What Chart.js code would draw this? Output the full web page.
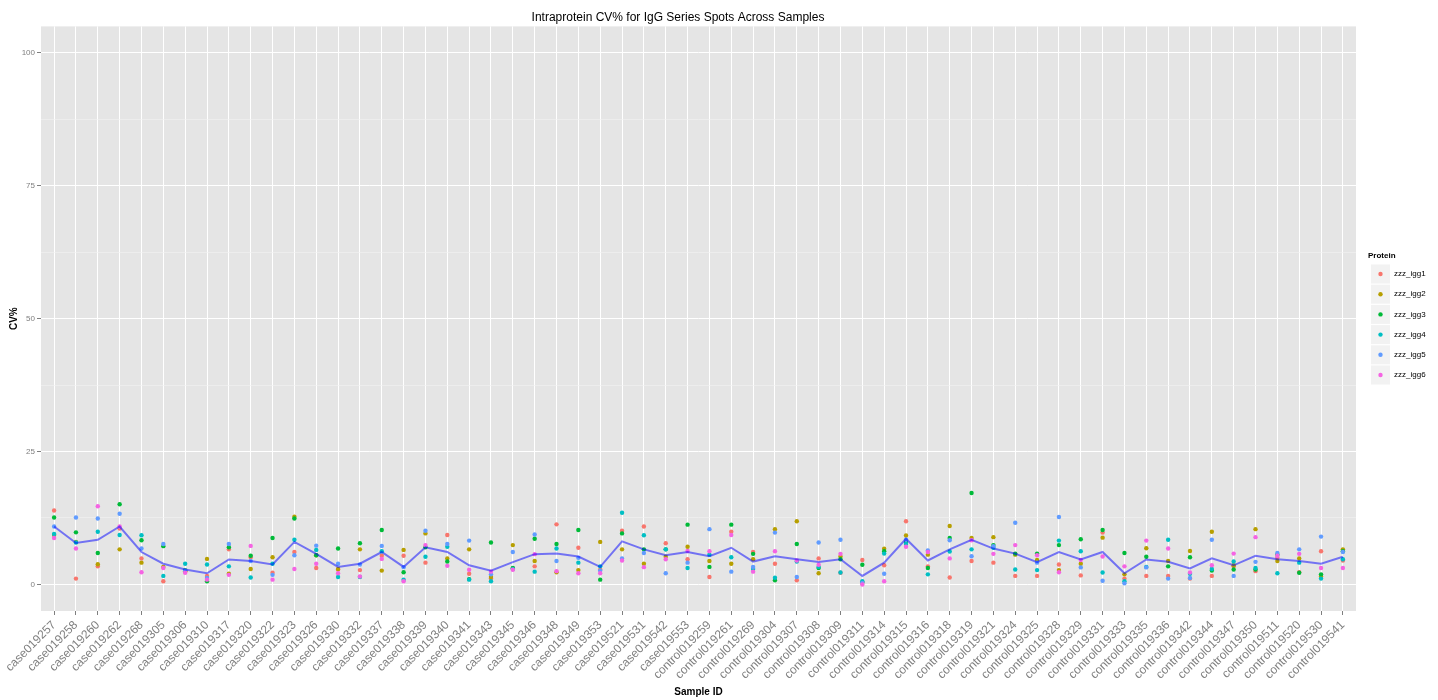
<!DOCTYPE html>
<html>
<head>
<meta charset="utf-8">
<title>Intraprotein CV% for IgG Series Spots Across Samples</title>
<script src="https://cdn.jsdelivr.net/npm/chart.js@4"></script>
<style>
  html, body { margin: 0; padding: 0; background: #ffffff; }
  #wrap { width: 1438px; height: 700px; }
</style>
</head>
<body>
<div id="wrap"><canvas id="cv" width="1438" height="700"></canvas></div>
<script>
// Sample IDs along the x axis
const categories = [
  'case019257','case019258','case019260','case019262','case019268','case019305',
  'case019306','case019310','case019317','case019320','case019322','case019323',
  'case019326','case019330','case019332','case019337','case019338','case019339',
  'case019340','case019341','case019343','case019345','case019346','case019348',
  'case019349','case019353','case019521','case019531','case019542','case019553',
  'control019259','control019261','control019269','control019304','control019307','control019308',
  'control019309','control019311','control019314','control019315','control019316','control019318',
  'control019319','control019321','control019324','control019325','control019328','control019329',
  'control019331','control019333','control019335','control019336','control019342','control019344',
  'control019347','control019350','control019511','control019520','control019530','control019541'
];

// CV% per protein spot, one value per sample
const igg1 = [13.9,1.1,3.4,10.5,4.9,0.6,2.4,1.6,6.6,5.1,2.2,6.1,3.1,2.8,2.7,5.4,5.4,4.1,9.3,2.0,
              1.1,3.0,3.4,11.3,6.9,2.8,10.1,10.9,7.75,4.75,1.4,9.9,6.1,3.9,0.8,4.9,2.2,4.6,3.6,11.9,
              3.4,1.3,4.4,4.1,1.6,1.6,3.75,1.7,9.75,1.1,1.6,1.6,1.1,1.6,3.4,2.5,5.0,2.3,6.25,4.5];
const igg2 = [9.3,8.0,3.8,6.6,4.1,3.3,2.5,4.8,2.0,2.9,5.1,12.75,5.5,2.9,6.6,2.6,6.5,9.6,4.9,6.6,
              1.4,7.4,4.4,2.3,2.7,8.0,6.6,3.9,5.2,7.1,4.4,3.9,4.75,10.4,11.9,2.1,5.25,0.4,6.7,9.2,
              5.6,11.0,8.75,8.9,5.6,4.6,2.7,3.9,8.8,1.9,6.8,4.4,6.3,9.9,3.6,10.4,4.4,4.9,1.5,6.6];
const igg3 = [12.6,9.8,5.9,15.1,8.3,7.2,2.7,0.6,7.0,5.4,8.75,12.4,5.5,6.75,7.75,10.25,2.3,7.0,4.3,1.0,
              7.9,3.1,8.6,7.6,10.25,0.9,9.6,6.6,6.6,11.25,3.3,11.25,5.75,0.8,7.6,3.1,4.75,3.7,6.25,8.0,
              3.1,8.75,17.2,7.4,5.8,5.8,7.4,8.5,10.25,5.9,5.2,3.4,5.1,2.6,2.8,2.8,5.6,2.2,1.9,6.25];
const igg4 = [9.5,7.9,9.9,9.3,9.25,1.6,3.9,3.75,3.4,1.3,3.9,8.4,6.5,1.4,1.4,6.25,0.9,5.2,7.1,0.9,
              0.6,2.9,2.4,6.75,4.1,3.4,13.5,9.25,6.6,3.1,5.6,5.1,2.9,1.25,4.3,3.3,2.25,0.6,5.8,7.6,
              1.9,6.2,6.6,6.9,2.8,2.7,8.25,6.25,2.25,0.6,3.3,8.4,2.0,2.9,4.3,3.1,2.1,4.1,1.1,4.75];
const igg5 = [10.9,12.6,12.4,13.3,6.75,7.6,2.6,1.2,7.6,4.4,1.8,5.5,7.3,3.9,3.75,7.25,3.25,10.1,7.6,8.25,
              1.9,6.1,9.4,4.4,5.0,2.6,4.9,5.9,2.1,4.1,10.4,2.4,3.3,9.75,1.4,7.9,8.4,0.3,2.0,8.4,
              6.4,8.3,5.3,7.2,11.6,4.1,12.7,3.2,0.7,0.2,3.2,1.1,1.2,8.4,1.6,4.25,5.9,6.6,9.0,6.1];
const igg6 = [8.75,6.75,14.7,10.9,2.3,3.1,2.2,0.9,1.8,7.25,0.9,2.9,3.9,2.1,1.5,4.8,0.6,7.4,3.5,2.75,
              2.4,2.75,5.7,2.5,2.1,2.1,4.5,3.25,4.75,6.3,6.25,9.3,2.4,6.25,4.5,3.7,5.75,0.0,0.6,7.1,
              6.1,4.9,8.3,5.75,7.4,5.5,2.3,4.6,5.25,3.4,8.25,6.75,2.25,3.6,5.8,8.9,5.4,5.75,3.1,3.1];

// Mean CV% across the six spots for each sample
const meanCV = [10.9,7.8,8.4,10.9,6.1,3.9,2.8,2.1,4.7,4.4,3.75,8.0,5.75,3.3,3.9,6.1,3.3,7.0,6.1,3.6,
                2.6,4.2,5.7,5.8,5.25,3.3,8.1,6.6,5.5,6.1,5.3,6.9,4.3,5.3,4.75,4.2,4.75,1.6,4.1,8.6,
                4.5,6.6,8.4,6.75,5.8,4.2,6.1,4.7,6.1,2.1,4.7,4.25,3.0,4.9,3.6,5.4,4.75,4.4,3.9,5.2];

const proteinNames = ['zzz_igg1','zzz_igg2','zzz_igg3','zzz_igg4','zzz_igg5','zzz_igg6'];
const proteinValues = [igg1, igg2, igg3, igg4, igg5, igg6];
const proteinColors = ['#F8766D','#B79F00','#00BA38','#00BFC4','#619CFF','#F564E3'];

const yMajor = [0, 25, 50, 75, 100];
const yMinor = [12.5, 37.5, 62.5, 87.5];

const FONT = '"Liberation Sans", Arial, Helvetica, sans-serif';

const toPoints = arr => arr.map((v, i) => ({ x: i, y: v }));

const datasets = [{
  type: 'line',
  label: 'mean',
  data: toPoints(meanCV),
  borderColor: 'rgba(0,0,255,0.5)',
  borderWidth: 2,
  pointRadius: 0,
  tension: 0,
  fill: false,
  order: 0
}];
proteinNames.forEach((name, k) => {
  datasets.push({
    type: 'scatter',
    label: name,
    data: toPoints(proteinValues[k]),
    backgroundColor: proteinColors[k],
    borderColor: proteinColors[k],
    borderWidth: 0,
    pointRadius: 2.2,
    order: proteinNames.length - k
  });
});

// Grey panel behind the plotting area
const panelBackground = {
  id: 'panelBackground',
  beforeDraw(chart) {
    const { ctx, chartArea: a } = chart;
    ctx.save();
    ctx.fillStyle = '#ffffff';
    ctx.fillRect(0, 0, chart.width, chart.height);
    ctx.fillStyle = '#E5E5E5';
    ctx.fillRect(a.left, a.top, a.right - a.left, a.bottom - a.top);
    ctx.restore();
  }
};

// Protein key on the right-hand side
const proteinKey = {
  id: 'proteinKey',
  afterDraw(chart) {
    const ctx = chart.ctx;
    ctx.save();
    ctx.textBaseline = 'middle';
    ctx.textAlign = 'left';
    ctx.fillStyle = '#000000';
    ctx.font = 'bold 8px ' + FONT;
    ctx.fillText('Protein', 1368, 256);
    ctx.font = '8px ' + FONT;
    proteinNames.forEach((name, k) => {
      const cy = 274 + k * 20.2;
      ctx.fillStyle = '#F2F2F2';
      ctx.fillRect(1371, cy - 9.5, 19, 19);
      ctx.fillStyle = proteinColors[k];
      ctx.beginPath();
      ctx.arc(1380.5, cy, 2.2, 0, Math.PI * 2);
      ctx.fill();
      ctx.fillStyle = '#000000';
      ctx.fillText(name, 1394, cy);
    });
    ctx.restore();
  }
};

new Chart(document.getElementById('cv'), {
  data: { datasets },
  plugins: [panelBackground, proteinKey],
  options: {
    responsive: false,
    devicePixelRatio: 1,
    animation: false,
    layout: { padding: { left: 0, right: 82, top: 0, bottom: 0 } },
    plugins: {
      legend: { display: false },
      tooltip: { enabled: false },
      title: {
        display: true,
        text: 'Intraprotein CV% for IgG Series Spots Across Samples',
        color: '#000000',
        font: { family: FONT, size: 12, weight: 'normal' },
        padding: { top: 10, bottom: 2 }
      }
    },
    scales: {
      x: {
        type: 'linear',
        min: -0.6,
        max: categories.length - 1 + 0.6,
        afterBuildTicks(scale) {
          scale.ticks = categories.map((_, i) => ({ value: i }));
        },
        afterFit(scale) { scale.height = 89; },
        ticks: {
          autoSkip: false,
          minRotation: 45,
          maxRotation: 45,
          padding: 3,
          color: '#7F7F7F',
          font: { family: FONT, size: 12 },
          callback: v => categories[v]
        },
        grid: {
          color: '#FFFFFF',
          lineWidth: 1,
          tickLength: 4,
          tickColor: '#7F7F7F',
          drawOnChartArea: true
        },
        border: { display: false },
        title: {
          display: true,
          text: 'Sample ID',
          color: '#000000',
          font: { family: FONT, size: 10, weight: 'bold' },
          padding: { top: 0, bottom: 2 }
        }
      },
      y: {
        type: 'linear',
        min: -5,
        max: 105,
        afterBuildTicks(scale) {
          scale.ticks = yMajor.concat(yMinor).sort((a, b) => a - b).map(v => ({ value: v }));
        },
        afterFit(scale) { scale.width = 41; },
        ticks: {
          padding: 2,
          color: '#7F7F7F',
          font: { family: FONT, size: 8 },
          callback: v => (yMajor.includes(v) ? String(v) : '')
        },
        grid: {
          color: c => (c.tick && yMajor.includes(c.tick.value) ? '#FFFFFF' : '#F2F2F2'),
          lineWidth: c => (c.tick && yMajor.includes(c.tick.value) ? 1 : 0.6),
          tickColor: c => (c.tick && yMajor.includes(c.tick.value) ? '#7F7F7F' : 'rgba(0,0,0,0)'),
          tickLength: 4
        },
        border: { display: false },
        title: {
          display: true,
          text: 'CV%',
          color: '#000000',
          font: { family: FONT, size: 10, weight: 'bold' },
          padding: { top: 8, bottom: 0 }
        }
      }
    }
  }
});
</script>
</body>
</html>
